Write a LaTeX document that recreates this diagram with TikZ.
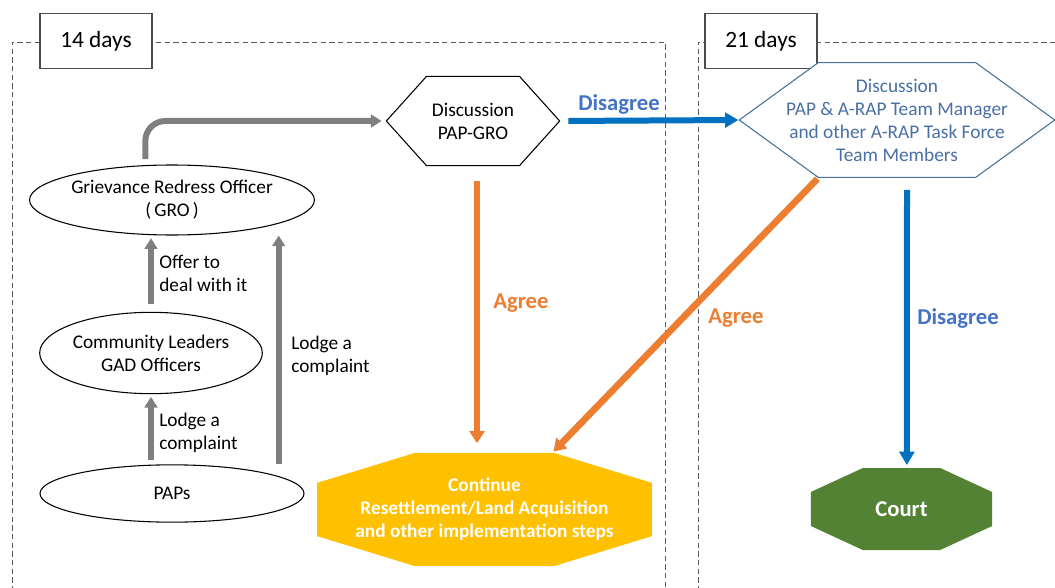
\documentclass[tikz,border=0pt]{standalone}
\usepackage{fontspec}
\setmainfont{Carlito}
\usetikzlibrary{shapes.geometric,shapes.symbols,arrows.meta}
\definecolor{flowgray}{HTML}{7F7F7F}
\definecolor{flowblue}{HTML}{0070C0}
\definecolor{floworange}{HTML}{ED7D31}
\definecolor{flowyellow}{HTML}{FFC000}
\definecolor{flowgreen}{HTML}{548235}
\definecolor{labelblue}{HTML}{4472C4}
\definecolor{teamline}{HTML}{41719C}
\definecolor{teamtext}{HTML}{4A6FA5}
\definecolor{framegray}{HTML}{595959}

\begin{document}
\begin{tikzpicture}[x=0.75pt,y=-0.75pt,
  every node/.style={font=\fontsize{14.5}{17.25}\selectfont},
  period/.style={draw=framegray,dash pattern=on 4pt off 2.5pt,line width=0.7pt},
  daysbox/.style={draw=black!70,fill=white,line width=0.8pt,minimum width=84pt,minimum height=41pt,font=\fontsize{17.5}{20}\selectfont},
  party/.style={ellipse,draw,line width=0.8pt,align=center,inner sep=0pt},
  talk/.style={signal,signal to=west and east,draw,fill=white,align=center,line width=0.8pt,inner sep=0pt},
  outcome/.style n args={3}{rectangle,inner sep=0pt,text=white,align=center,
    font=\bfseries\fontsize{14.5}{17.25}\selectfont,
    path picture={\fill[#1]
      ([xshift=#2]path picture bounding box.north west) -- ([xshift=-#2]path picture bounding box.north east) --
      ([yshift=-#3]path picture bounding box.north east) -- ([yshift=#3]path picture bounding box.south east) --
      ([xshift=-#2]path picture bounding box.south east) -- ([xshift=#2]path picture bounding box.south west) --
      ([yshift=#3]path picture bounding box.south west) -- ([yshift=-#3]path picture bounding box.north west) -- cycle;}},
  steplabel/.style={anchor=west,align=left,inner sep=0pt},
  verdict/.style={font=\bfseries\fontsize{17}{20}\selectfont},
  grayarrow/.style={draw=flowgray,line width=4.5pt,-{Triangle[length=8pt,width=9.5pt]}},
  orangearrow/.style={draw=floworange,line width=5pt,-{Triangle[length=9pt,width=11pt]}},
  bluearrow/.style={draw=flowblue,line width=4.5pt,-{Triangle[length=10pt,width=11pt]}}]
\useasboundingbox (0,0) rectangle (1055,588);
\clip (0,0) rectangle (1055,588);

\draw[period] (12,600) -- (12,42) -- (665,42) -- (665,600);
\draw[period] (698,600) -- (698,42) -- (1070,42);
\node[daysbox] (d14) at (96,41) {14 days};
\node[daysbox] (d21) at (761,41) {21 days};

\node[party,minimum width=198pt,minimum height=52.5pt] (gro) at (172,200) {Grievance Redress Officer\\(\,GRO\,)};
\node[party,minimum width=167pt,minimum height=61pt] (leaders) at (151,353) {Community Leaders\\GAD Officers};
\node[party,minimum width=198pt,minimum height=43pt] (paps) at (172,493.5) {PAPs};

\node[talk,signal pointer angle=96,minimum width=130pt,minimum height=67pt] (pg) at (473,121) {Discussion\\PAP-GRO};
\node[talk,draw=teamline,text=teamtext,signal pointer angle=72,inner xsep=-24pt,minimum height=86pt] (team) at (897,120)
  {Discussion\\PAP \& A-RAP Team Manager\\and other A-RAP Task Force\\Team Members};

\node[outcome={flowyellow}{73.5pt}{22.5pt},minimum width=251pt,minimum height=85pt] (cont) at (484.5,509.5)
  {Continue\\Resettlement/Land Acquisition\\and other implementation steps};
\node[outcome={flowgreen}{39pt}{18pt},minimum width=136pt,minimum height=61.5pt,font=\bfseries\fontsize{17}{20}\selectfont] (court) at (901.5,509) {Court};

\draw[grayarrow,shorten <=3pt,shorten >=2pt] (paps.north -| leaders) -- (leaders.south);
\draw[grayarrow,shorten <=6pt,shorten >=2pt] (leaders.north) -- (leaders.north |- gro.south);
\draw[grayarrow] ([xshift=80pt]paps.north) -- ([xshift=80pt]gro.south);
\draw[grayarrow,rounded corners=15pt,shorten <=4pt,shorten >=3pt] ([xshift=-20pt]gro.north) |- (pg.west);
\draw[bluearrow,shorten <=6pt] (pg.east) -- (team.west);
\draw[orangearrow,shorten <=11pt,shorten >=7pt] ([xshift=3pt]pg.south) -- ([xshift=3pt]pg.south |- cont.north);
\draw[orangearrow,shorten <=1pt,shorten >=1pt] ([xshift=-59pt]team.south) -- ([xshift=51pt]cont.north);
\draw[bluearrow,shorten <=9pt,shorten >=2pt] ([xshift=7.5pt]team.south) -- ([xshift=4pt]court.north);

\node[steplabel] (offer) at (159,273) {Offer to\\deal with it};
\node[steplabel] (lodgeleft) at (159,433) {Lodge a\\complaint};
\node[steplabel] (lodgeright) at (291,356) {Lodge a\\complaint};
\node[verdict,text=labelblue] (disagreetop) at (619,104) {Disagree};
\node[verdict,text=floworange] (agreeleft) at (521,303) {Agree};
\node[verdict,text=floworange] (agreeright) at (736,318) {Agree};
\node[verdict,text=labelblue] (disagreeright) at (958,318) {Disagree};
\end{tikzpicture}
\end{document}
